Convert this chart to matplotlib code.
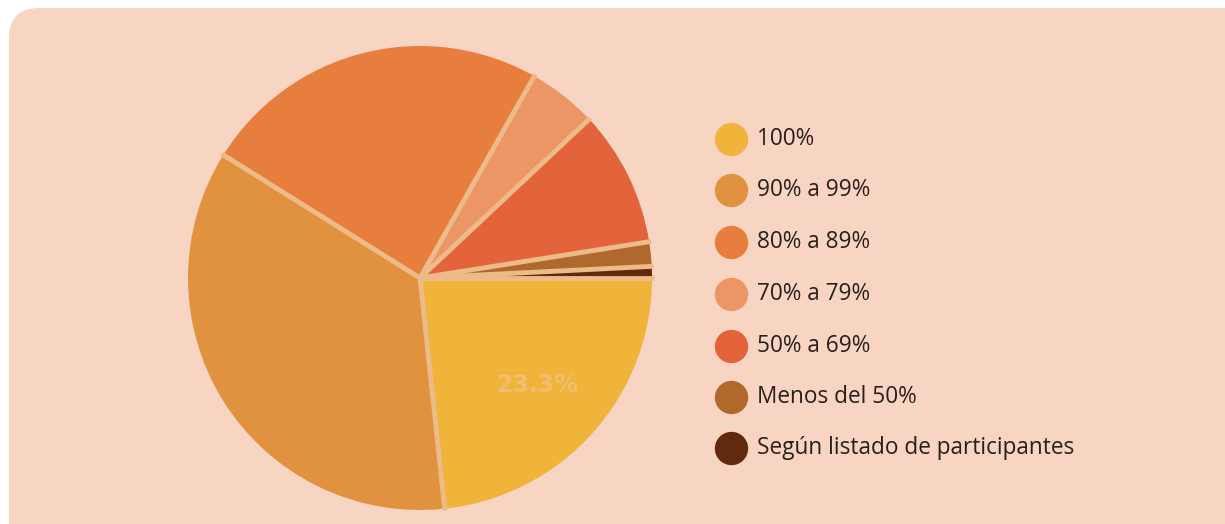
import matplotlib
matplotlib.use("Agg")
import matplotlib.pyplot as plt
import numpy as np
from matplotlib.patches import FancyBboxPatch

categories = ["100%", "90% a 99%", "80% a 89%", "70% a 79%", "50% a 69%",
              "Menos del 50%", "Según listado de participantes"]
values = [23.3, 35.6, 24.3, 4.8, 9.5, 1.7, 0.8]
colors = ["#F0B43A", "#E0923E", "#E87E3E", "#EC9665", "#E3643A", "#B0692C", "#61290D"]
label_text = "23.3%"

W, H = 1225, 524
fig = plt.figure(figsize=(W / 100, H / 100), dpi=100)
fig.patch.set_facecolor("white")
ax = fig.add_axes([0, 0, 1, 1])

bg = FancyBboxPatch((9, -40), W + 40, H - 8 + 40,
                    boxstyle="round,pad=0,rounding_size=30",
                    facecolor="#F7D5C2", edgecolor="none", zorder=0)
ax.add_patch(bg)

cx, cy, r = 420, H - 278, 232
wedges, texts = ax.pie(values, colors=colors, startangle=0, counterclock=False,
                       center=(cx, cy), radius=r, frame=True,
                       wedgeprops=dict(edgecolor="none", linewidth=0))
for w in wedges:
    w.set_zorder(2)

# separator lines between slices
edge_col = "#EDBB8A"
total = sum(values)
cum = 0.0
for v in values:
    ang = np.deg2rad(-360.0 * cum / total)
    ax.plot([cx, cx + (r + 2) * np.cos(ang)], [cy, cy + (r + 2) * np.sin(ang)],
            color=edge_col, linewidth=3.5, solid_capstyle="butt", zorder=2.5)
    cum += v

ax.set_xlim(0, W)
ax.set_ylim(0, H)
ax.set_aspect("equal")
ax.axis("off")

ax.text(537, H - 385, label_text, ha="center", va="center", fontsize=17,
        fontweight="bold", color="#F2BD6E", zorder=3, family="DejaVu Sans")

ys = [139, 190, 242, 294, 346, 397, 448]
for cat, col, y in zip(categories, colors, ys):
    ax.plot([731], [H - y], marker="o", markersize=24, color=col,
            markeredgewidth=0, zorder=3, linestyle="none")
    ax.text(757, H - y, cat, ha="left", va="center", fontsize=16.3,
            color="#2A1F1A", family="Open Sans", zorder=3)

fig.savefig("out.png", dpi=100, facecolor="white")
